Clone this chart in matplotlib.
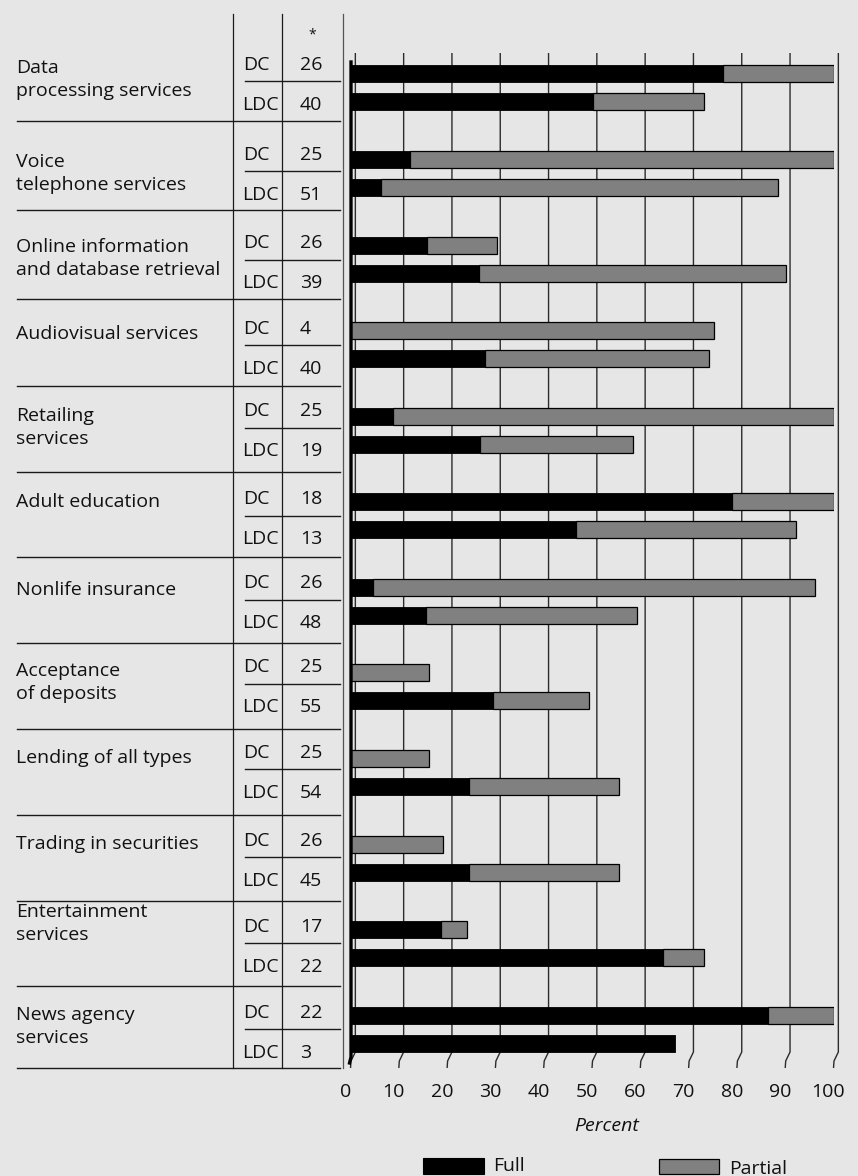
import matplotlib
matplotlib.use("Agg")
import matplotlib.pyplot as plt
from matplotlib.patches import Rectangle
import numpy as np

# ---------------- data ----------------
categories = [
    ["Data", "processing services"],
    ["Voice", "telephone services"],
    ["Online information", "and database retrieval"],
    ["Audiovisual services"],
    ["Retailing", "services"],
    ["Adult education"],
    ["Nonlife insurance"],
    ["Acceptance", "of deposits"],
    ["Lending of all types"],
    ["Trading in securities"],
    ["Entertainment", "services"],
    ["News agency", "services"],
]
groups = ["DC", "LDC"]
n_dc = [26, 25, 26, 4, 25, 18, 26, 25, 25, 26, 17, 22]
n_ldc = [40, 51, 39, 40, 19, 13, 48, 55, 54, 45, 22, 3]
full_dc = [77.1, 12.3, 15.7, 0.0, 8.6, 78.9, 4.6, 0.0, 0.0, 0.0, 18.6, 86.3]
partial_dc = [22.9, 87.7, 14.6, 75.1, 91.4, 21.1, 91.5, 16.2, 16.2, 19.1, 5.5, 13.7]
full_ldc = [50.0, 6.3, 26.5, 27.7, 26.7, 46.5, 15.5, 29.4, 24.4, 24.4, 64.6, 67.1]
partial_ldc = [23.1, 82.2, 63.5, 46.4, 31.6, 45.6, 43.8, 19.8, 31.0, 31.0, 8.5, 0.0]
x_ticks = [0, 10, 20, 30, 40, 50, 60, 70, 80, 90, 100]
x_label = "Percent"
legend_labels = ["Full", "Partial"]

# ---------------- style / layout ----------------
W, H = 858, 1176
BG = "#e6e6e6"
FULL_C = "#000000"
PART_C = "#808080"
LINE_C = "#1a1a1a"
TXT_C = "#111111"
FONT = ["Open Sans", "DejaVu Sans"]
FS = 14

plt.rcParams["font.family"] = FONT

X0, X100 = 351, 834          # pixel position of 0 % and 100 % on the bar scale
ROW0, ROW_STEP, LDC_OFF, BAR_H = 73.8, 85.6, 28.0, 17.0
TABLE_TOP, TABLE_BOT = 14, 1068
separators = [121, 210, 299, 386, 472, 557, 643, 729, 815, 901, 986, 1068]
dividers = [81, 171, 260, 345, 428, 516, 600, 684, 769, 857, 943, 1029]
label_base = [73, 167, 252, 339, 421, 507, 595, 676, 763, 849, 917, 1020]
LINE_GAP = 23

fig = plt.figure(figsize=(W / 100, H / 100), dpi=100, facecolor=BG)

# pixel-space axes for the table / decorations
pax = fig.add_axes([0, 0, 1, 1])
pax.set_xlim(0, W)
pax.set_ylim(H, 0)
pax.axis("off")
pax.patch.set_visible(False)

# bar axes: x in percent, y in pixel rows
bax = fig.add_axes([X0 / W, 0, (X100 - X0) / W, 1])
bax.set_xlim(0, 100)
bax.set_ylim(H, 0)
bax.axis("off")
bax.patch.set_visible(False)

idx = np.arange(len(categories))
y_dc = ROW0 + ROW_STEP * idx
y_ldc = y_dc + LDC_OFF

# grid lines (with small slanted tails at the bottom)
G = 0.9
for v in x_ticks:
    bax.plot([v + G, v + G, v + G - 0.9, v + G - 1.0], [53, 1052, 1061, 1068],
             color="#2b2b2b", lw=1.0, zorder=1, clip_on=False, solid_capstyle="butt")

# bars
fd, pdc = np.array(full_dc), np.array(partial_dc)
fl, pl = np.array(full_ldc), np.array(partial_ldc)
bax.barh(y_dc, fd, height=BAR_H, color=FULL_C, edgecolor="black", lw=0.6, zorder=3)
bax.barh(y_ldc, fl, height=BAR_H, color=FULL_C, edgecolor="black", lw=0.6, zorder=3)
m = pdc > 0
bax.barh(y_dc[m], pdc[m], left=fd[m], height=BAR_H, color=PART_C, edgecolor="black", lw=0.9, zorder=3)
m = pl > 0
bax.barh(y_ldc[m], pl[m], left=fl[m], height=BAR_H, color=PART_C, edgecolor="black", lw=0.9, zorder=3)

# thick base line at 0
bax.plot([0, 0, -0.3], [62, 1057, 1063], color="black", lw=2.4, zorder=4, clip_on=False)

# tick labels and axis label
for v in x_ticks:
    bax.text(v - 1.15, 1092, str(v), ha="center", va="center", fontsize=FS, color=TXT_C)
pax.text(607, 1126, x_label, ha="center", va="center", fontsize=FS, style="italic", color=TXT_C)

# ---------------- table ----------------
for x in (233, 282):
    pax.plot([x, x], [TABLE_TOP, TABLE_BOT], color=LINE_C, lw=0.9)
pax.plot([343, 343], [TABLE_TOP, TABLE_BOT], color="#555555", lw=0.9)
for s in separators:
    pax.plot([17, 340], [s, s], color=LINE_C, lw=1.0)
for d in dividers:
    pax.plot([245, 340], [d, d], color=LINE_C, lw=1.0)

pax.text(312, 35, "*", ha="center", va="center", fontsize=10, color=TXT_C)

for i, lines in enumerate(categories):
    for j, ln in enumerate(lines):
        pax.text(16, label_base[i] + j * LINE_GAP, ln, ha="left", va="baseline",
                 fontsize=FS, color=TXT_C)
    pax.text(243, dividers[i] - 11.5, groups[0], ha="left", va="baseline", fontsize=FS, color=TXT_C)
    pax.text(242, dividers[i] + 28.5, groups[1], ha="left", va="baseline", fontsize=FS, color=TXT_C)
    pax.text(300, dividers[i] - 11.5, str(n_dc[i]), ha="left", va="baseline", fontsize=FS, color=TXT_C)
    pax.text(300, dividers[i] + 28.5, str(n_ldc[i]), ha="left", va="baseline", fontsize=FS, color=TXT_C)

# ---------------- legend ----------------
pax.add_patch(Rectangle((423, 1158), 61, 16, facecolor=FULL_C, edgecolor="black", lw=0.8))
pax.text(493, 1166, legend_labels[0], ha="left", va="center", fontsize=FS, color=TXT_C)
pax.add_patch(Rectangle((659, 1159), 60, 15, facecolor=PART_C, edgecolor="black", lw=0.9))
pax.text(729, 1169, legend_labels[1], ha="left", va="center", fontsize=FS, color=TXT_C)

fig.savefig("out.png", dpi=100, facecolor=BG)
